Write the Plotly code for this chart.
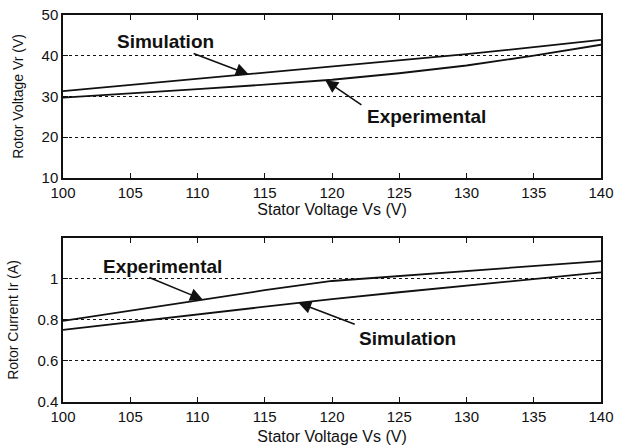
import numpy as np
import plotly.graph_objects as go

# ---- data ----
stator_v = [100, 105, 110, 115, 120, 125, 130, 135, 140]

# top panel: rotor voltage (V)
vr_simulation = [31.3, 32.8, 34.3, 35.8, 37.3, 38.8, 40.4, 42.1, 43.9]
vr_experimental = [29.7, 30.7, 31.8, 32.9, 34.1, 35.7, 37.6, 40.0, 42.7]

# bottom panel: rotor current (A)
ir_experimental = [0.795, 0.845, 0.895, 0.945, 0.990, 1.015, 1.040, 1.063, 1.087]
ir_simulation = [0.752, 0.790, 0.828, 0.866, 0.902, 0.935, 0.968, 1.000, 1.032]

x_ticks = [100, 105, 110, 115, 120, 125, 130, 135, 140]
vr_ticks = [10, 20, 30, 40, 50]
ir_ticks = [0.4, 0.6, 0.8, 1.0]
ir_tick_text = ["0.4", "0.6", "0.8", "1"]

FONT = "Liberation Sans, Arial, sans-serif"
INK = "#111111"

fig = go.Figure()
line_style = dict(color=INK, width=1.8)
fig.add_trace(go.Scatter(x=stator_v, y=vr_simulation, mode="lines", line=line_style,
                         xaxis="x", yaxis="y", name="Simulation", showlegend=False))
fig.add_trace(go.Scatter(x=stator_v, y=vr_experimental, mode="lines", line=line_style,
                         xaxis="x", yaxis="y", name="Experimental", showlegend=False))
fig.add_trace(go.Scatter(x=stator_v, y=ir_experimental, mode="lines", line=line_style,
                         xaxis="x2", yaxis="y2", name="Experimental", showlegend=False))
fig.add_trace(go.Scatter(x=stator_v, y=ir_simulation, mode="lines", line=line_style,
                         xaxis="x2", yaxis="y2", name="Simulation", showlegend=False))

axis_common = dict(
    showline=True, mirror="ticks", linecolor=INK, linewidth=1.5,
    ticks="inside", ticklen=5, tickwidth=1.2, tickcolor=INK,
    tickfont=dict(family=FONT, size=15, color=INK),
    zeroline=False, automargin=False,
)
xtitle_font = dict(family=FONT, size=16, color=INK)
xcommon = dict(axis_common, range=[100, 140], tickvals=x_ticks, showgrid=False)
ygrid = dict(showgrid=True, gridcolor=INK, gridwidth=1, griddash="dot")

fig.update_layout(
    width=629, height=445,
    margin=dict(l=63, r=28, t=15, b=43),
    paper_bgcolor="white", plot_bgcolor="white",
    xaxis=dict(xcommon, domain=[0, 1], anchor="y", automargin=True,
               title=dict(text="Stator Voltage Vs (V)", font=xtitle_font, standoff=1)),
    yaxis=dict(axis_common, **ygrid, domain=[0.579, 1], anchor="x", range=[10, 50], tickvals=vr_ticks,
               title=dict(text="Rotor Voltage Vr (V)", font=dict(family=FONT, size=14, color=INK))),
    xaxis2=dict(xcommon, domain=[0, 1], anchor="y2",
                title=dict(text="Stator Voltage Vs (V)", font=xtitle_font)),
    yaxis2=dict(axis_common, **ygrid, domain=[0, 0.424], anchor="x2", range=[0.4, 1.2],
                tickvals=ir_ticks, ticktext=ir_tick_text,
                title=dict(text="Rotor Current Ir (A)", font=dict(family=FONT, size=14, color=INK))),
)

label_font = dict(family=FONT, size=19, color=INK)


def add_label(text, tx, ty, tail, tip_x, series, xr, yr):
    tip_y = float(np.interp(tip_x, stator_v, series))
    fig.add_annotation(x=tx, y=ty, xref=xr, yref=yr, text="<b>%s</b>" % text,
                       showarrow=False, font=label_font)
    fig.add_annotation(x=tip_x, y=tip_y, xref=xr, yref=yr, ax=tail[0], ay=tail[1],
                       axref=xr, ayref=yr, text="", showarrow=True,
                       arrowhead=2, arrowsize=1.6, arrowwidth=1.6, arrowcolor=INK)


add_label("Simulation", 107.6, 43.4, (109.6, 40.7), 113.8, vr_simulation, "x", "y")
add_label("Experimental", 127.0, 25.0, (122.3, 27.7), 119.5, vr_experimental, "x", "y")
add_label("Experimental", 107.4, 1.059, (106.3, 1.010), 110.4, ir_experimental, "x2", "y2")
add_label("Simulation", 125.6, 0.712, (121.8, 0.776), 117.5, ir_simulation, "x2", "y2")

fig.write_html("out.html", config={"displayModeBar": False},
               post_script="document.body.style.margin='0';")
